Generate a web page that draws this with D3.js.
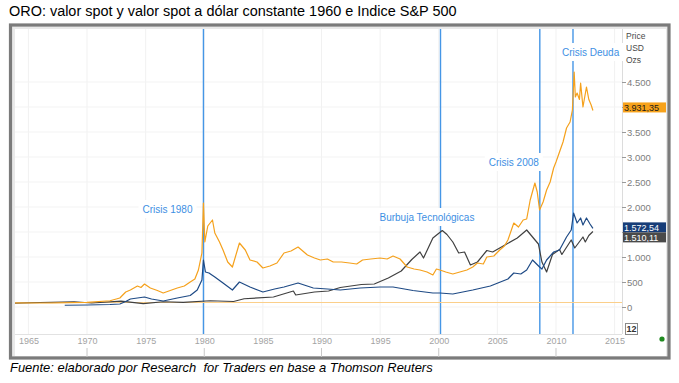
<!DOCTYPE html>
<html><head><meta charset="utf-8">
<script src="https://cdn.jsdelivr.net/npm/d3@7/dist/d3.min.js"></script>
<style>
body{margin:0;background:#fff;}
svg{display:block;font-family:"Liberation Sans",Arial,Helvetica,sans-serif;}
</style>
</head><body>
<svg id="c" width="679" height="383"></svg>
<script>
// ---------------- DATA ----------------
const titleText = "ORO: valor spot y valor spot a dólar constante 1960 e Indice S&P 500";
const sourceText = "Fuente: elaborado por Research  for Traders en base a Thomson Reuters";

// Orange: gold at constant 1960 dollars
const goldConstYears  = [1963.86,1967,1970,1971.96,1972.8,1973.3,1973.7,1974.3,1974.6,1974.9,1975.4,1976.0,1976.5,1977.1,1977.7,1978.3,1978.8,1979.2,1979.5,1979.8,1979.93,1980.05,1980.3,1980.7,1980.9,1981.3,1981.6,1982.0,1982.4,1983.0,1983.5,1983.9,1984.5,1985.0,1985.6,1986.2,1986.8,1987.4,1988.0,1988.8,1989.4,1989.9,1990.5,1991.0,1991.7,1992.4,1993.0,1993.5,1994.2,1995.0,1995.6,1996.1,1996.7,1997.3,1997.9,1998.4,1999.0,1999.5,1999.8,2000.1,2000.6,2001.2,2001.8,2002.4,2002.9,2003.3,2003.8,2004.1,2004.7,2005.2,2005.6,2005.9,2006.4,2006.8,2007.2,2007.5,2007.8,2008.2,2008.4,2008.6,2008.9,2009.2,2009.5,2009.8,2010.0,2010.3,2010.6,2010.9,2011.2,2011.4,2011.55,2011.65,2011.8,2012.0,2012.1,2012.3,2012.45,2012.6,2012.8,2013.0,2013.15];
const goldConstValues = [80,80,92,125,180,300,340,420,390,460,380,330,280,330,380,420,500,560,740,1080,2080,1300,1620,1740,1480,1300,1140,900,800,1280,1140,940,900,780,820,880,1080,1120,1200,1040,980,940,960,900,900,880,860,940,960,980,960,1020,960,800,760,740,700,640,760,740,700,660,700,740,800,880,860,1000,1020,1140,1220,1340,1680,1600,1740,1760,2140,2480,2300,1940,2100,2340,2500,2780,2900,3100,3300,3580,3700,3940,4700,4200,4280,4150,4480,4000,4200,4400,4150,4040,3931];

// Dark blue: gold spot price (USD/oz)
const goldSpotYears  = [1968.1,1970,1971.96,1972.8,1973.3,1973.7,1974.3,1974.9,1975.5,1976.5,1977.7,1978.8,1979.4,1979.8,1979.93,1980.1,1980.4,1980.9,1981.6,1982.4,1983.0,1983.9,1985.0,1986.0,1986.8,1988.0,1989.3,1990.5,1991.6,1993.3,1995.0,1996.1,1997.8,1999.5,2000.1,2001.2,2002.9,2004.4,2005.9,2006.4,2007.0,2007.5,2008.0,2008.6,2008.8,2009.2,2009.8,2010.3,2010.9,2011.3,2011.5,2011.8,2012.1,2012.3,2012.6,2012.9,2013.15];
const goldSpotValues = [35,40,50,60,110,160,180,200,160,120,180,230,340,540,940,700,680,600,480,340,500,400,300,360,400,480,380,360,340,380,400,400,330,280,280,260,340,420,560,680,660,740,940,800,760,940,1100,1140,1400,1540,1880,1680,1780,1640,1780,1660,1572];

// Dark grey: S&P 500
const spxYears  = [1963.86,1966,1968.9,1970.4,1972.9,1974.8,1976.5,1978.2,1980.5,1982.5,1983.4,1985.9,1987.6,1987.8,1989.4,1990.6,1991.6,1993.4,1994.5,1995.7,1996.8,1997.7,1998.4,1998.7,1999.5,2000.3,2000.7,2001.2,2001.7,2002.2,2002.7,2003.3,2004.1,2004.6,2005.5,2006.7,2007.5,2008.0,2008.5,2008.8,2009.2,2009.7,2010.3,2010.5,2011.3,2011.6,2012.3,2012.5,2012.8,2013.15];
const spxValues = [75,90,105,80,118,68,105,92,125,110,165,200,320,240,300,320,390,450,460,580,720,950,1100,980,1380,1530,1450,1300,1080,1100,840,900,1130,1100,1220,1380,1540,1400,1260,900,700,1050,1150,1050,1340,1180,1400,1300,1430,1510];

const refLineValue = 90;          // flat light-orange reference line
const yTicks = [0,500,1000,1500,2000,2500,3000,3500,4000,4500];
const yTicksHidden = [1500,4000]; // covered by the last-value tags
const xTicks = [1965,1970,1975,1980,1985,1990,1995,2000,2005,2010,2015];
const decadeTicks = [1970,1980,1990,2000,2010];
const eventYears  = [1979.93, 2000.15, 2008.62, 2011.45];
const eventLabels = ["Crisis 1980", "Burbuja Tecnológicas", "Crisis 2008", "Crisis Deuda"];
const lastValues = [3931.35, 1572.54, 1510.11];
const axisHeader = ["Price","USD","Ozs"];

// ---------------- LAYOUT ----------------
const svg = d3.select("#c");
const P = {left:15, right:622, top:29, bottom:334};
const x = d3.scaleLinear().domain([1963.857, 2015.63]).range([P.left, P.right]);
const y = d3.scaleLinear().domain([-540, 5560]).range([P.bottom, P.top]);
const loc = d3.formatLocale({decimal:",", thousands:".", grouping:[3], currency:["",""]});
const fInt = loc.format(",d");
const fDec = loc.format(",.2f");

function fitText(sel, target){
  const w = sel.node().getComputedTextLength();
  const fs = parseFloat(sel.attr("font-size"));
  sel.attr("font-size", (fs*target/w).toFixed(2));
}

// title
const t = svg.append("text").attr("x",9).attr("y",16).attr("font-size",13).attr("fill","#000")
  .style("white-space","pre").text(titleText);
fitText(t, 448);

// frame
svg.append("rect").attr("x",10.5).attr("y",25).attr("width",658.5).attr("height",333)
  .attr("fill","#e9e9e9").attr("stroke","#7b7b7b").attr("stroke-width",3.2);
svg.append("rect").attr("x",P.left).attr("y",P.top).attr("width",666-P.left).attr("height",356-P.top)
  .attr("fill","#fff");

// grid
const g = svg.append("g");
g.selectAll(".vg").data(xTicks).join("line")
  .attr("x1",d=>x(d)).attr("x2",d=>x(d)).attr("y1",P.top).attr("y2",P.bottom)
  .attr("stroke","#f1f1f1").attr("stroke-width",1);
g.selectAll(".hg").data(yTicks).join("line")
  .attr("x1",P.left).attr("x2",P.right).attr("y1",d=>y(d)).attr("y2",d=>y(d))
  .attr("stroke","#f3f3f3").attr("stroke-width",1);

// plot borders
svg.append("line").attr("x1",P.left).attr("x2",P.right).attr("y1",P.bottom+0.5).attr("y2",P.bottom+0.5)
  .attr("stroke","#e2e2e2");
svg.append("line").attr("x1",P.right+0.5).attr("x2",P.right+0.5).attr("y1",P.top).attr("y2",P.bottom)
  .attr("stroke","#dcdcdc");

// event vertical lines
svg.append("g").selectAll("line").data(eventYears).join("line")
  .attr("x1",d=>x(d)).attr("x2",d=>x(d)).attr("y1",P.top).attr("y2",P.bottom)
  .attr("stroke","#4596e6").attr("stroke-width",1.4);

// reference line
svg.append("line").attr("x1",P.left).attr("x2",P.right)
  .attr("y1",y(refLineValue)).attr("y2",y(refLineValue))
  .attr("stroke","#fbcf8a").attr("stroke-width",1.2);

// series
const line = d3.line().x(d=>x(d[0])).y(d=>y(d[1]));
const series = [
  {yrs:spxYears, vals:spxValues, color:"#404040"},
  {yrs:goldSpotYears, vals:goldSpotValues, color:"#1e4a85"},
  {yrs:goldConstYears, vals:goldConstValues, color:"#f5a11c"}
];
svg.append("g").selectAll("path").data(series).join("path")
  .attr("d",s=>line(s.yrs.map((yr,i)=>[yr,s.vals[i]])))
  .attr("fill","none").attr("stroke",s=>s.color).attr("stroke-width",1.2)
  .attr("stroke-linejoin","round");

// event labels
const labelDx = [-61, -61, -51, -11];
const labelY  = [209, 217, 162, 52];
const lg = svg.append("g");
eventLabels.forEach((lab,i)=>{
  const tx = x(eventYears[i]) + labelDx[i];
  const txt = lg.append("text").attr("x",tx).attr("y",labelY[i]+3.5)
    .attr("font-size",10).attr("fill","#3d8fe3").text(lab);
  const w = txt.node().getComputedTextLength();
  lg.insert("rect","text").attr("x",tx-4).attr("y",labelY[i]-9).attr("width",w+8).attr("height",18)
    .attr("fill","#fff");
});

// right axis
const ya = svg.append("g").attr("transform",`translate(${P.right},0)`)
  .call(d3.axisRight(y).tickValues(yTicks).tickSize(4).tickPadding(1)
    .tickFormat(d=>yTicksHidden.includes(d) ? "" : fInt(d)));
ya.select(".domain").remove();
ya.selectAll("line").attr("stroke","#9a9a9a");
ya.selectAll("text").attr("font-size",9.5).attr("fill","#7d7d7d")
  .attr("font-family","'Liberation Sans',Arial,sans-serif");

// header
svg.append("g").selectAll("text").data(axisHeader).join("text")
  .attr("x",626).attr("y",(d,i)=>39+i*12).attr("font-size",8.5).attr("fill","#4a4a4a")
  .text(d=>d);

// value tags
const tagColors = [["#f7a21b","#1a1a1a"],["#173d78","#ffffff"],["#4a4a4a","#ffffff"]];
const tagY = [y(lastValues[0])-3, y(lastValues[1])-1, y(lastValues[1])+9];
lastValues.forEach((v,i)=>{
  svg.append("rect").attr("x",623).attr("y",tagY[i]-5).attr("width",43).attr("height",10)
    .attr("fill",tagColors[i][0]);
  svg.append("text").attr("x",624).attr("y",tagY[i]+3.3).attr("font-size",9)
    .attr("fill",tagColors[i][1]).text(fDec(v));
});

// x axis
const xa = svg.append("g").attr("transform",`translate(0,${P.bottom})`)
  .call(d3.axisBottom(x).tickValues(xTicks).tickSize(0).tickPadding(4).tickFormat(d3.format("d")));
xa.select(".domain").remove();
xa.selectAll("text").attr("font-size",9).attr("fill","#a3a3a3")
  .attr("font-family","'Liberation Sans',Arial,sans-serif");
svg.append("g").selectAll("line").data(decadeTicks).join("line")
  .attr("x1",d=>x(d)).attr("x2",d=>x(d)).attr("y1",348).attr("y2",357)
  .attr("stroke","#c8c8c8");

// "12" box and status dot
svg.append("rect").attr("x",625.5).attr("y",323.5).attr("width",12).attr("height",11)
  .attr("fill","#fff").attr("stroke","#8a8a8a");
svg.append("text").attr("x",631.5).attr("y",332).attr("text-anchor","middle").attr("font-size",9)
  .attr("font-weight","bold").attr("fill","#333").text("12");
svg.append("circle").attr("cx",662).attr("cy",339).attr("r",2.6).attr("fill","#1f8a1f");

// source
const s = svg.append("text").attr("x",10).attr("y",372).attr("font-size",12.5)
  .attr("font-style","italic").attr("fill","#000").style("white-space","pre").text(sourceText);
fitText(s, 423);
</script>
</body></html>
